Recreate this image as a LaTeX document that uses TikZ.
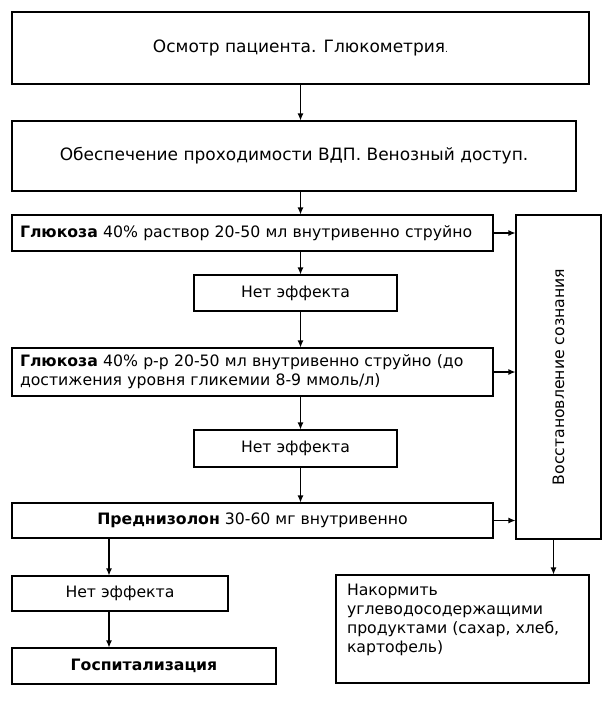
\documentclass[tikz,border=0pt]{standalone}
\usepackage{fontspec}
\usepackage{graphicx}
\setmainfont{DejaVu Sans}
\usetikzlibrary{arrows.meta}
\begin{document}
\begin{tikzpicture}[x=1pt,y=-1pt,>={Latex[length=7pt,width=6pt]},line width=1.1pt]
\tikzstyle{box}=[rectangle,draw,inner sep=0pt,font=\fontsize{15.7}{19}\selectfont]
\tikzstyle{top}=[box,font=\fontsize{17}{20}\selectfont]
\tikzstyle{wide}=[box,minimum width=481pt,text width=465pt,align=left]
\tikzstyle{noeff}=[box,minimum width=203pt,minimum height=36pt]

\useasboundingbox (0,0) rectangle (613,704);

\node[top,minimum width=577pt,minimum height=72pt] (exam) at (300.5,48) {Осмотр пациента. Глюкометрия{\small .}};
\node[top,minimum width=564pt,minimum height=70pt] (airway) at (294,156) {Обеспечение проходимости ВДП. Венозный доступ.};
\draw[->] (exam.south) -- (exam.south |- airway.north);

\node[wide,minimum height=36pt] (glucA) at (252.5,233) {\textbf{Глюкоза} 40\% раствор 20-50 мл внутривенно струйно};
\draw[->] (exam.south |- airway.south) -- (exam.south |- glucA.north);

\node[noeff] (noEffA) at (295.5,293) {Нет эффекта};
\draw[->] (exam.south |- glucA.south) -- (exam.south |- noEffA.north);

\node[wide,minimum height=48pt] (glucB) at (252.5,372) {\textbf{Глюкоза} 40\% р-р 20-50 мл внутривенно струйно (до\\достижения уровня гликемии 8-9 ммоль/л)};
\draw[->] (exam.south |- noEffA.south) -- (exam.south |- glucB.north);

\node[noeff,minimum height=37pt] (noEffB) at (295.5,448.5) {Нет эффекта};
\draw[->] (exam.south |- glucB.south) -- (exam.south |- noEffB.north);

\node[box,minimum width=481pt,minimum height=35pt] (pred) at (252.5,520.5) {\textbf{Преднизолон} 30-60 мг внутривенно};
\draw[->] (exam.south |- noEffB.south) -- (exam.south |- pred.north);

%right column: recovery of consciousness
\node[box,minimum width=85pt,minimum height=324pt] (recover) at (558.5,377) {\rotatebox{90}{Восстановление сознания}};
\draw[->] (glucA.east) -- (glucA.east -| recover.west);
\draw[->] (glucB.east) -- (glucB.east -| recover.west);
\draw[->] (pred.east) -- (pred.east -| recover.west);

\node[box,minimum width=253pt,minimum height=108pt] (feed) at (462.5,629) {\parbox[t][90pt][t]{231pt}{Накормить\\углеводосодержащими\\продуктами (сахар, хлеб,\\картофель)}};
\draw[->] ([xshift=-5pt]recover.south) -- ([xshift=-5pt]recover.south |- feed.north);

\node[box,minimum width=216pt,minimum height=35pt] (noEffC) at (120,593.5) {Нет эффекта};
\draw[->] ([xshift=-11pt]noEffC.north |- pred.south) -- ([xshift=-11pt]noEffC.north);

\node[box,minimum width=264pt,minimum height=36pt] (hosp) at (144,666) {\textbf{Госпитализация}};
\draw[->] ([xshift=-11pt]noEffC.south) -- ([xshift=-11pt]noEffC.south |- hosp.north);

\end{tikzpicture}
\end{document}
